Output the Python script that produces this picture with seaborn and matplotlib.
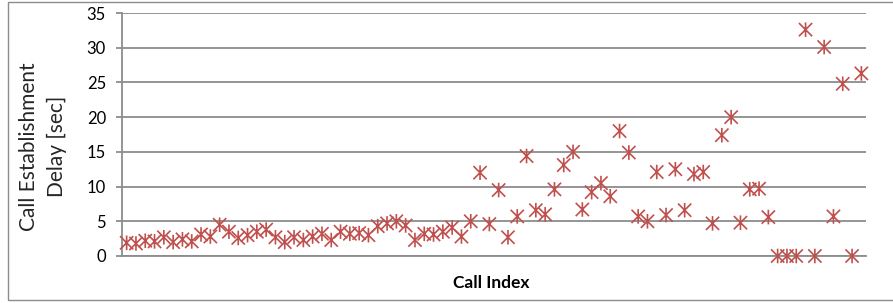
import numpy as np
import pandas as pd
import seaborn as sns
import matplotlib.pyplot as plt
from matplotlib.path import Path
from matplotlib.patches import Rectangle

# delay per call (seconds)
call_index = list(range(80))
delay_sec = [1.9, 1.8, 2.2, 2.1, 2.7, 2.0, 2.4, 2.1, 3.1, 2.8,
             4.5, 3.5, 2.6, 3.0, 3.5, 3.8, 2.7, 2.0, 2.7, 2.3,
             2.8, 3.2, 2.3, 3.5, 3.2, 3.3, 3.0, 4.3, 4.7, 5.0,
             4.4, 2.3, 3.2, 3.1, 3.5, 4.1, 2.8, 5.0, 12.0, 4.6,
             9.5, 2.7, 5.7, 14.4, 6.6, 6.0, 9.6, 13.1, 15.0, 6.7,
             9.2, 10.5, 8.6, 18.0, 14.9, 5.7, 5.0, 12.1, 5.9, 12.5,
             6.6, 11.8, 12.1, 4.7, 17.4, 20.0, 4.8, 9.6, 9.7, 5.6,
             0.0, 0.0, 0.0, 32.6, 0.0, 30.1, 5.7, 24.8, 0.0, 26.3]
y_ticks = [0, 5, 10, 15, 20, 25, 30, 35]

df = pd.DataFrame({'idx': call_index, 'delay': delay_sec})

sns.set_style('white')
plt.rcParams['font.family'] = ['Lato', 'DejaVu Sans']

# excel style asterisk: an X with a vertical stroke
star = Path([(-1, -1), (1, 1), (-1, 1), (1, -1), (0, -1.1), (0, 1.1)],
            [Path.MOVETO, Path.LINETO, Path.MOVETO, Path.LINETO, Path.MOVETO, Path.LINETO])

fig = plt.figure(figsize=(8.93, 3.03), dpi=100)
ax = fig.add_axes([122/893, 1-256/303, 744/893, 243/303])

ax.set_xlim(-0.5, 79.5)
ax.set_ylim(0, 35)
ax.set_yticks(y_ticks)
ax.set_xticks([])
ax.yaxis.grid(True, color='#8c8c8c', linewidth=1.3)
ax.set_axisbelow(True)

sns.scatterplot(data=df, x='idx', y='delay', ax=ax, marker=star, s=110,
                facecolor='none', edgecolor='#C0504D', linewidth=1.2,
                clip_on=False, zorder=3)

for side in ['top', 'right']:
    ax.spines[side].set_visible(False)
ax.spines['left'].set_color('#8c8c8c')
ax.spines['bottom'].set_color('#8c8c8c')
ax.spines['left'].set_linewidth(1.3)
ax.spines['bottom'].set_linewidth(1.3)
ax.tick_params(axis='y', left=True, length=4.5, width=1.3, color='#8c8c8c',
               labelsize=12, pad=7, labelcolor='black')

ax.set_ylabel('Call Establishment\nDelay [sec]', fontsize=15, linespacing=1.45, va='center')
ax.yaxis.set_label_coords(-0.106, 0.45)
ax.set_xlabel('')
fig.text(491/893, 1 - 283/303, 'Call Index', fontsize=12.5, fontweight='bold',
         ha='center', va='center', color='black')

# chart border
fig.patches.append(Rectangle((8/893, 1 - 300/303), 0.995, 298/303, transform=fig.transFigure,
                             fill=False, edgecolor='#8c8c8c', linewidth=1.0))

fig.savefig('out.png', dpi=100)
